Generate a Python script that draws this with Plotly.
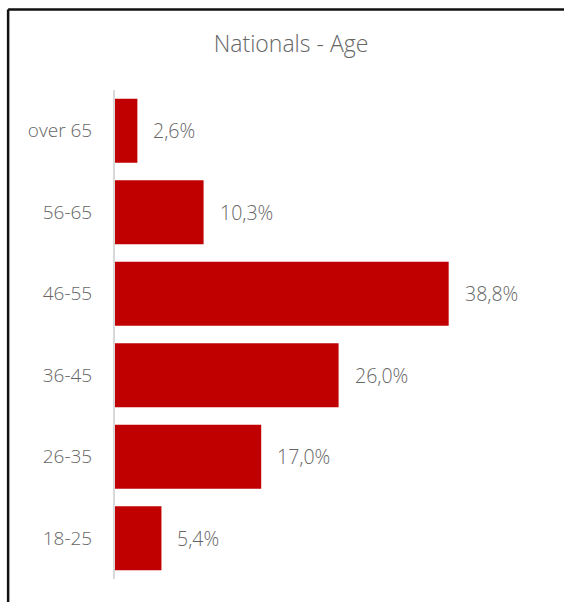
import plotly.graph_objects as go

categories = ["18-25", "26-35", "36-45", "46-55", "56-65", "over 65"]
values = [5.4, 17.0, 26.0, 38.8, 10.3, 2.6]
labels = [f"{v:.1f}".replace(".", ",") + "%" for v in values]

W, H = 564, 602
ml, mr, mt, mb = 115, 18.5, 90, 23
pw = W - ml - mr
ph = H - mt - mb

TXT = "#666666"
FONT = "Open Sans"

fig = go.Figure()
fig.add_trace(go.Bar(
    y=categories, x=values, orientation="h",
    marker=dict(color="#c00000", line=dict(width=0)),
    width=0.785, hoverinfo="skip",
))

for c, v, t in zip(categories, values, labels):
    fig.add_annotation(x=v, y=c, text=t, showarrow=False, xanchor="left",
                       yanchor="middle", xshift=14,
                       font=dict(family=FONT, size=19.5, color=TXT, weight=300))

# outer border (top and left edges visible)
x0 = (8 - ml) / pw
x1 = (W + 5 - ml) / pw
y_top = 1 + (mt - 9.5) / ph
y_bot = -(mb + 5) / ph
fig.add_shape(type="line", xref="paper", yref="paper", x0=x0, x1=x1, y0=y_top, y1=y_top,
              line=dict(color="#111111", width=2.5))
fig.add_shape(type="line", xref="paper", yref="paper", x0=x0, x1=x0, y0=y_top, y1=y_bot,
              line=dict(color="#111111", width=2.5))

fig.update_layout(
    width=W, height=H,
    margin=dict(l=ml, r=mr, t=mt, b=mb, pad=0),
    paper_bgcolor="white", plot_bgcolor="white",
    showlegend=False,
    title=dict(text="Nationals - Age", x=291 / W, xanchor="center",
               y=1 - 44 / H, yanchor="middle", yref="container", xref="container",
               font=dict(family=FONT, size=23, color=TXT, weight=300)),
    xaxis=dict(range=[0, 50], visible=False, fixedrange=True),
    yaxis=dict(categoryorder="array", categoryarray=categories,
               showline=True, linecolor="#d9d9d9", linewidth=2,
               ticks="", showgrid=False, zeroline=False, ticklabelstandoff=17,
               tickfont=dict(family=FONT, size=19, color=TXT, weight=300)),
    bargap=0.215,
)

fig.write_html("out.html")
